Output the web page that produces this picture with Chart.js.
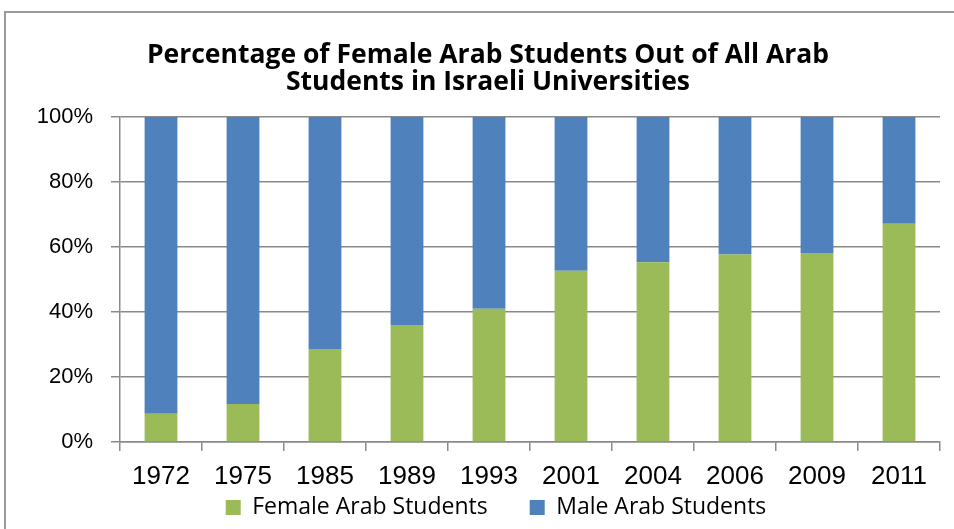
<!DOCTYPE html>
<html lang="en">
<head>
    <meta charset="UTF-8">
    <title>Female Arab Students</title>
    <script src="https://cdn.jsdelivr.net/npm/chart.js"></script>
    <style>
        body { margin: 0; overflow: hidden; background: #fff; }
        #frame { position: absolute; left: 4px; top: 11px; width: 1200px; height: 800px; border: 2px solid #9a9a9a; }
        #wrap { position: absolute; left: 0; top: 0; width: 945px; height: 567px; }
    </style>
</head>
<body>
    <div id="frame"></div>
    <div id="wrap"><canvas id="chart"></canvas></div>
<script>
    const years = ["1972", "1975", "1985", "1989", "1993", "2001", "2004", "2006", "2009", "2011"];
    const female = [8.7, 11.7, 28.6, 36.0, 41.0, 52.7, 55.3, 57.7, 58.2, 67.2];
    const male = [91.3, 88.3, 71.4, 64.0, 59.0, 47.3, 44.7, 42.3, 41.8, 32.8];
    const yTicks = [0, 20, 40, 60, 80, 100];

    const gray = "#8a8a8a";

    // the legend padding also sets the gap between items, so pull the box back up afterwards
    const legendShift = {
        id: "legendShift",
        afterLayout(chart) {
            const lg = chart.legend;
            lg.top -= 38; lg.bottom -= 38;
            lg.left += 8; lg.right += 8;
        }
    };

    new Chart(document.getElementById("chart"), {
        type: "bar",
        data: {
            labels: years,
            datasets: [
                { label: "Female Arab Students", data: female, backgroundColor: "#9bbb59" },
                { label: "Male Arab Students", data: male, backgroundColor: "#4f81bd" }
            ]
        },
        plugins: [legendShift],
        options: {
            responsive: true,
            maintainAspectRatio: false,
            animation: false,
            datasets: { bar: { barPercentage: 0.4, categoryPercentage: 1.0 } },
            layout: { padding: { left: 36, right: 5, top: 0, bottom: 0 } },
            plugins: {
                title: {
                    display: true,
                    text: ["Percentage of Female Arab Students Out of All Arab", "Students in Israeli Universities"],
                    color: "#000",
                    font: { family: "Open Sans", size: 26.5, weight: "bold", lineHeight: 1.02 },
                    padding: { top: 42, bottom: 21 }
                },
                legend: {
                    position: "bottom",
                    labels: {
                        color: "#000",
                        boxWidth: 15,
                        boxHeight: 15,
                        padding: 42,
                        font: { family: "Open Sans", size: 23 }
                    }
                },
                tooltip: { enabled: false }
            },
            scales: {
                x: {
                    stacked: true,
                    grid: { display: true, drawOnChartArea: false, drawTicks: true, tickLength: 9, offset: true, color: gray, lineWidth: 1.5 },
                    border: { display: true, color: gray, width: 1.5 },
                    ticks: { color: "#000", padding: 10, font: { family: "Liberation Sans", size: 26 } },
                    afterFit: s => { s.height = 50; }
                },
                y: {
                    stacked: true,
                    min: 0,
                    max: 100,
                    afterBuildTicks: s => { s.ticks = yTicks.map(v => ({ value: v })); },
                    grid: { color: gray, lineWidth: 1.5, tickLength: 9 },
                    border: { display: true, color: gray, width: 1.5 },
                    ticks: { color: "#000", padding: 18, font: { family: "Liberation Sans", size: 22 }, callback: v => v + "%" },
                    afterFit: s => { s.width = 84; }
                }
            }
        }
    });
</script>
</body>
</html>
